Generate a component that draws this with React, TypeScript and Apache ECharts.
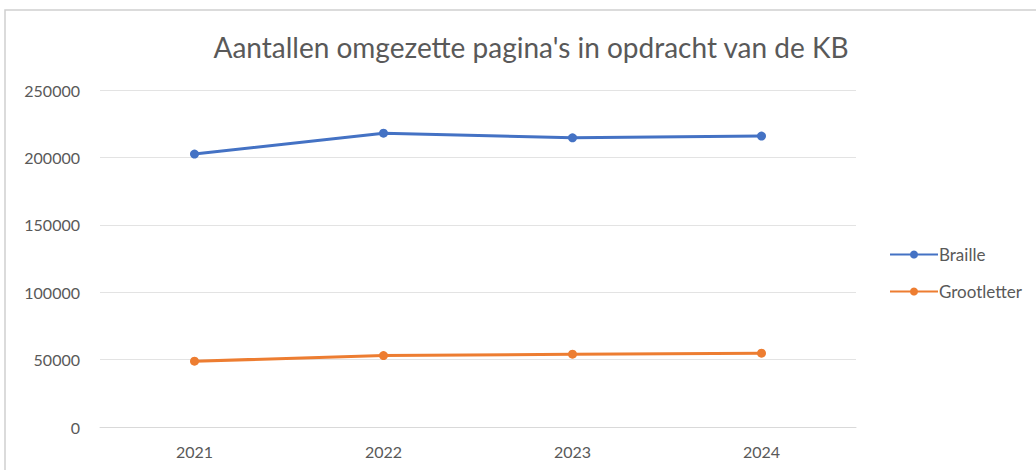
import React, { useEffect, useRef } from "react";
import * as echarts from "echarts";

const title = "Aantallen omgezette pagina's in opdracht van de KB";
const years = ["2021", "2022", "2023", "2024"];
const brailleValues = [202500, 218000, 214500, 215800];
const grootletterValues = [48800, 53000, 54000, 54800];
const seriesNames = ["Braille", "Grootletter"];
const yTicks = { min: 0, max: 250000, interval: 50000 };

const FONT = "Lato, 'Open Sans', sans-serif";
const TEXT = "#595959";

export default function App() {
  const ref = useRef<HTMLDivElement>(null);
  useEffect(() => {
    document.body.style.margin = "0";
    const chart = echarts.init(ref.current!, null, { renderer: "svg" });
    chart.setOption({
      animation: false,
      backgroundColor: "#ffffff",
      textStyle: { fontFamily: FONT },
      title: {
        text: title,
        left: 526,
        textAlign: "center",
        top: 28,
        textStyle: { fontFamily: FONT, fontSize: 28, fontWeight: "normal", color: TEXT },
      },
      graphic: [
        {
          type: "rect",
          shape: { x: 5, y: 10, width: 1100, height: 500 },
          style: { fill: "none", stroke: "#d0d0d0", lineWidth: 1.5 },
          silent: true,
          z: -1,
        },
      ],
      legend: {
        orient: "vertical",
        left: 884,
        top: 241,
        itemGap: 20,
        itemWidth: 48,
        itemHeight: 10,
        data: seriesNames,
        textStyle: { fontFamily: FONT, fontSize: 17, color: TEXT, padding: [0, 0, 0, -4] },
      },
      grid: { left: 100, right: 180, top: 90, bottom: 43, containLabel: false },
      xAxis: {
        type: "category",
        data: years,
        boundaryGap: true,
        axisLine: { lineStyle: { color: "#d9d9d9", width: 1 } },
        axisTick: { show: false },
        axisLabel: { fontFamily: FONT, fontSize: 16, color: TEXT, margin: 16 },
      },
      yAxis: {
        type: "value",
        min: yTicks.min,
        max: yTicks.max,
        interval: yTicks.interval,
        axisLine: { show: false },
        axisTick: { show: false },
        splitLine: { lineStyle: { color: "#e3e3e3", width: 1 } },
        axisLabel: {
          fontFamily: FONT,
          fontSize: 16,
          color: TEXT,
          margin: 20,
          formatter: (v: number) => String(v),
        },
      },
      series: [
        {
          name: seriesNames[0],
          type: "line",
          data: brailleValues,
          symbol: "circle",
          symbolSize: 9,
          lineStyle: { color: "#4472C4", width: 3 },
          itemStyle: { color: "#4472C4" },
        },
        {
          name: seriesNames[1],
          type: "line",
          data: grootletterValues,
          symbol: "circle",
          symbolSize: 9,
          lineStyle: { color: "#ED7D31", width: 3 },
          itemStyle: { color: "#ED7D31" },
        },
      ],
    });
    return () => chart.dispose();
  }, []);
  return <div ref={ref} style={{ width: 1036, height: 470 }} />;
}
